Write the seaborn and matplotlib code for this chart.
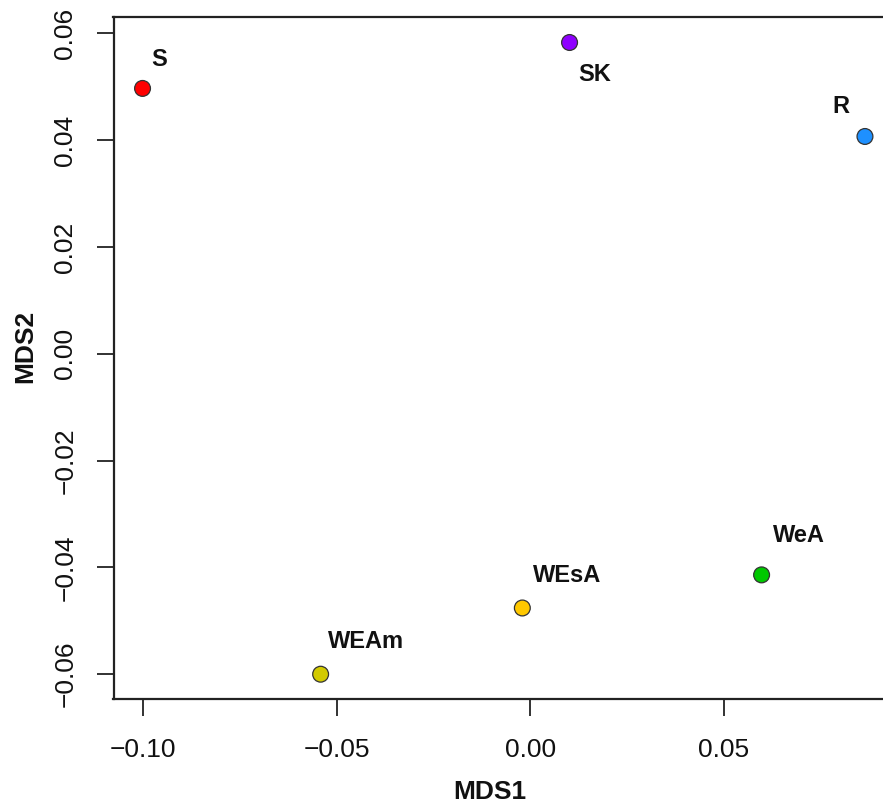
import matplotlib
matplotlib.use("Agg")
import matplotlib.pyplot as plt
import seaborn as sns
import pandas as pd

# NMDS site scores
sites = ["S", "SK", "R", "WeA", "WEsA", "WEAm"]
mds1 = [-0.1002, 0.0101, 0.0864, 0.0597, -0.0021, -0.0542]
mds2 = [0.0497, 0.0583, 0.0407, -0.0414, -0.0476, -0.0600]
site_colors = ["#FF0000", "#8F00FF", "#1E90FF", "#00C800", "#FFC800", "#D2CA00"]

# label offsets in pixels (dx, dy, horizontal alignment)
label_offsets = {
    "S": (9, 29, "left"),
    "SK": (9, -32, "left"),
    "R": (-16, 30, "right"),
    "WeA": (11, 39, "left"),
    "WEsA": (11, 32, "left"),
    "WEAm": (7, 33, "left"),
}

df = pd.DataFrame({"site": sites, "MDS1": mds1, "MDS2": mds2})

sns.set_style("ticks")
plt.rcParams["font.family"] = ["Liberation Sans", "DejaVu Sans"]

W, H, DPI = 883, 805, 100
fig = plt.figure(figsize=(W / DPI, H / DPI), dpi=DPI)
ax_left, ax_right, ax_top, ax_bottom = 113.5, 894.0, 17.4, 699.3
ax = fig.add_axes([ax_left / W, 1 - ax_bottom / H,
                   (ax_right - ax_left) / W, (ax_bottom - ax_top) / H])

sns.scatterplot(data=df, x="MDS1", y="MDS2", hue="site", palette=site_colors,
                hue_order=sites, s=130, edgecolor="#333333", linewidth=0.9,
                legend=False, ax=ax, zorder=3)

for name, x, y in zip(sites, mds1, mds2):
    dx, dy, ha = label_offsets[name]
    ax.annotate(name, (x, y), xytext=(dx, dy), textcoords="offset pixels",
                ha=ha, va="center", fontsize=17, fontweight="bold", color="#111111")

ax.set_xlim(-0.1077, 0.0939)
ax.set_ylim(-0.0647, 0.0630)
ax.set_xticks([-0.10, -0.05, 0.00, 0.05])
ax.set_xticklabels(["\u22120.10", "\u22120.05", "0.00", "0.05"])
ax.set_yticks([-0.06, -0.04, -0.02, 0.00, 0.02, 0.04, 0.06])
ax.set_yticklabels(["\u22120.06", "\u22120.04", "\u22120.02", "0.00", "0.02", "0.04", "0.06"],
                   rotation=90, va="center")

for s in ax.spines.values():
    s.set_linewidth(1.6)
    s.set_color("#222222")
ax.tick_params(axis="both", length=12, width=1.3, color="#222222",
               labelsize=19, labelcolor="#111111")
ax.tick_params(axis="x", pad=16)
ax.tick_params(axis="y", pad=14)

ax.set_xlabel("MDS1", fontsize=19, fontweight="bold", color="#111111")
ax.set_ylabel("MDS2", fontsize=19, fontweight="bold", color="#111111")
# place axis titles by figure pixel position
ax.xaxis.set_label_coords((490 - ax_left) / (ax_right - ax_left),
                          -(792 - ax_bottom) / (ax_bottom - ax_top))
ax.yaxis.set_label_coords(-(ax_left - 25) / (ax_right - ax_left),
                          (ax_bottom - 346) / (ax_bottom - ax_top))
ax.xaxis.label.set_va("center")
ax.yaxis.label.set_va("center")

fig.savefig("out.png", dpi=DPI, facecolor="white")
